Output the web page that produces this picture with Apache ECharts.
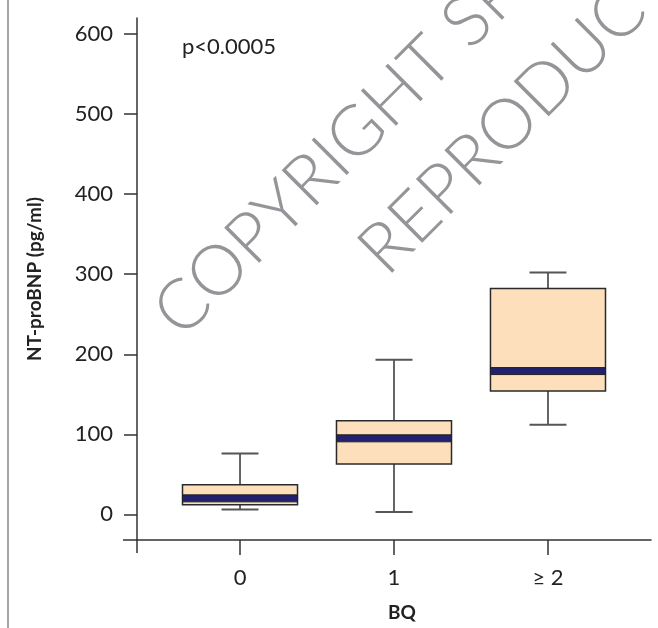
<!DOCTYPE html>
<html>
<head>
<meta charset="utf-8">
<script src="https://cdn.jsdelivr.net/npm/echarts@6/dist/echarts.min.js"></script>
<style>html,body{margin:0;padding:0;background:#fff}#c{width:658px;height:628px}</style>
</head>
<body>
<div id="c"></div>
<script>
const categories = ['0', '1', '≥ 2'];
const whiskerLow = [6, 3, 112];
const q1 = [12, 63, 154];
const median = [20, 95, 179];
const q3 = [37, 117, 282];
const whiskerHigh = [76, 193, 302];
const yTicks = [0, 100, 200, 300, 400, 500, 600];
const xTicks = [0, 1, 2];
const pText = 'p<0.0005';
const yName = 'NT-proBNP (pg/ml)';
const xName = 'BQ';

const chart = echarts.init(document.getElementById('c'), null, {renderer: 'canvas'});
const font = 'Lato, "Open Sans", sans-serif';
const axisColor = '#333';

const data = categories.map((c, i) => [i, whiskerLow[i], q1[i], median[i], q3[i], whiskerHigh[i]]);

function renderItem(params, api) {
  const x = api.value(0);
  const pLow = api.coord([x, api.value(1)]);
  const pQ1 = api.coord([x, api.value(2)]);
  const pMed = api.coord([x, api.value(3)]);
  const pQ3 = api.coord([x, api.value(4)]);
  const pHigh = api.coord([x, api.value(5)]);
  const unit = api.size([1, 0])[0];
  const bw = unit * 0.747;
  const cw = unit * 0.24;
  const cx = pLow[0];
  const lineStyle = {stroke: '#333', lineWidth: 1.5};
  const capStyle = {stroke: '#555', lineWidth: 2};
  return {
    type: 'group',
    children: [
      {type: 'line', shape: {x1: cx, y1: pQ3[1], x2: cx, y2: pHigh[1]}, style: lineStyle},
      {type: 'line', shape: {x1: cx, y1: pQ1[1], x2: cx, y2: pLow[1]}, style: lineStyle},
      {type: 'line', shape: {x1: cx - cw / 2, y1: pHigh[1], x2: cx + cw / 2, y2: pHigh[1]}, style: capStyle},
      {type: 'line', shape: {x1: cx - cw / 2, y1: pLow[1], x2: cx + cw / 2, y2: pLow[1]}, style: capStyle},
      {type: 'rect', shape: {x: cx - bw / 2, y: pQ3[1], width: bw, height: pQ1[1] - pQ3[1]},
        style: {fill: '#fde0bb', stroke: '#2a2a2a', lineWidth: 1.5}},
      {type: 'rect', shape: {x: cx - bw / 2, y: pMed[1] - 3.5, width: bw, height: 7},
        style: {fill: '#22216e', stroke: '#222', lineWidth: 1}}
    ]
  };
}

const option = {
  backgroundColor: '#fff',
  animation: false,
  grid: {left: 137, right: 7, top: 18, bottom: 88},
  xAxis: {
    type: 'value',
    min: -0.669,
    max: 2.669,
    splitLine: {show: false},
    axisLine: {show: true, onZero: false, lineStyle: {color: axisColor, width: 1.5}},
    axisTick: {show: true, customValues: xTicks, length: 15, lineStyle: {color: axisColor, width: 1.5}},
    axisLabel: {customValues: xTicks, margin: 27, formatter: v => categories[Math.round(v)],
      color: '#222', fontSize: 22, fontFamily: font},
    name: xName,
    nameLocation: 'middle',
    nameGap: 63,
    nameTextStyle: {color: '#222', fontSize: 19, fontWeight: 'bold', fontFamily: font, padding: [0, 0, 0, 16]}
  },
  yAxis: {
    type: 'value',
    min: -32,
    max: 620,
    splitLine: {show: false},
    axisLine: {show: true, onZero: false, lineStyle: {color: axisColor, width: 1.5}},
    axisTick: {show: true, customValues: yTicks, length: 13, lineStyle: {color: axisColor, width: 1.5}},
    axisLabel: {customValues: yTicks, margin: 24, color: '#222', fontSize: 22, fontFamily: font},
    name: yName,
    nameLocation: 'middle',
    nameGap: 93,
    nameTextStyle: {color: '#222', fontSize: 19, fontWeight: 'bold', fontFamily: font}
  },
  series: [{
    type: 'custom',
    renderItem: renderItem,
    data: data,
    encode: {x: 0, y: [1, 2, 3, 4, 5]},
    clip: false
  }],
  graphic: [
    {type: 'line', shape: {x1: 8, y1: 0, x2: 8, y2: 628}, style: {stroke: '#888', lineWidth: 1.5}},
    {type: 'line', shape: {x1: 123, y1: 540, x2: 137, y2: 540}, style: {stroke: axisColor, lineWidth: 1.5}},
    {type: 'line', shape: {x1: 137, y1: 540, x2: 137, y2: 553}, style: {stroke: axisColor, lineWidth: 1.5}},
    {type: 'text', x: 182, y: 47, style: {text: pText, font: '22px ' + font, fill: '#222', textVerticalAlign: 'middle'}},
    {type: 'text', x: 166, y: 324, rotation: Math.PI / 4, z: 100,
      style: {text: 'COPYRIGHT SPRINGER', font: '300 70px Lato, sans-serif', fill: '#939598', textVerticalAlign: 'middle'}},
    {type: 'text', x: 371, y: 262, rotation: Math.PI / 4, z: 100,
      style: {text: 'REPRODUCTION PROHIBITED', font: '300 70px Lato, sans-serif', fill: '#939598', textVerticalAlign: 'middle'}}
  ]
};
chart.setOption(option);
</script>
</body>
</html>
